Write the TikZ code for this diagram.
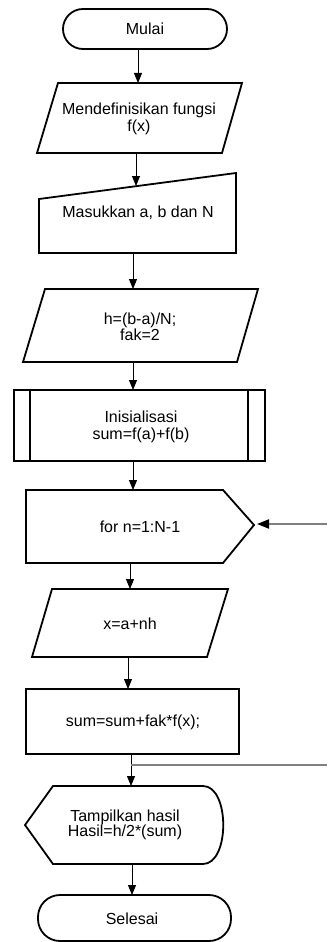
\documentclass[tikz,border=0pt]{standalone}
\usepackage{fontspec}
\setmainfont{Liberation Sans}
\usetikzlibrary{arrows.meta}
\tikzset{
  shapeline/.style={draw=black, line width=1.8pt, line join=miter, fill=white},
  txt/.style={align=center, inner sep=0pt, font=\fontsize{16}{17.5}\selectfont},
  conn/.style={draw=black, line width=1pt, -{Triangle[length=10pt,width=8pt]}},
  loopline/.style={draw=black!50, line width=2pt},
  looparrow/.style={draw=black!50, line width=2pt, -{Triangle[length=12pt,width=9pt,color=black]}}
}
\begin{document}
\begin{tikzpicture}[x=1pt,y=-1pt]
\useasboundingbox (0,0) rectangle (327,942);

% 1 Mulai
\draw[shapeline, rounded corners=20pt] (63,9) rectangle (227,49);
\node[txt] (mulai) at (145,29) {Mulai};
\coordinate (mulaiS) at (138,49);

% 2 Mendefinisikan fungsi
\draw[shapeline] (58,83) -- (242,83) -- (222,153) -- (37,153) -- cycle;
\node[txt] (def) at (139,119) {Mendefinisikan fungsi\\f(x)};
\coordinate (defN) at (138,83);
\coordinate (defS) at (136,153);

% 3 Masukkan
\draw[shapeline] (39,199) -- (236,173) -- (236,253) -- (39,253) -- cycle;
\node[txt] (input) at (138,213) {Masukkan a, b dan N};
\coordinate (inputN) at (136,186);
\coordinate (inputS) at (133,253);

% 4 h=(b-a)/N
\draw[shapeline] (45,289) -- (258,289) -- (237,362) -- (23,362) -- cycle;
\node[txt, font=\fontsize{16}{14.5}\selectfont] (hval) at (140,327) {h=(b-a)/N;\\fak=2};
\coordinate (hvalN) at (133,289);
\coordinate (hvalS) at (133,362);

% 5 Inisialisasi
\draw[shapeline] (14,390) rectangle (265,461);
\draw[shapeline] (30,390) -- (30,461);
\draw[shapeline] (248,390) -- (248,461);
\node[txt, font=\fontsize{16}{17}\selectfont] (init) at (141,427) {Inisialisasi\\sum=f(a)+f(b)};
\coordinate (initN) at (133,390);
\coordinate (initS) at (133,461);

% 6 for loop
\draw[shapeline] (26,490) -- (223,490) -- (254,525) -- (223,563) -- (26,563) -- cycle;
\node[txt] (loop) at (140,527) {for n=1:N-1};
\coordinate (loopN) at (133,490);
\coordinate (loopS) at (130,563);
\coordinate (loopE) at (257,524);
\coordinate (backIn) at (327,524);

% 7 x=a+nh
\draw[shapeline] (52,589) -- (228,589) -- (207,657) -- (32,657) -- cycle;
\node[txt] (xval) at (130,624) {x=a+nh};
\coordinate (xvalN) at (130,589);
\coordinate (xvalS) at (128,657);

% 8 sum
\draw[shapeline] (26,689) rectangle (239,754);
\node[txt] (sum) at (133,722) {sum=sum+fak*f(x);};
\coordinate (sumN) at (128,689);
\coordinate (sumS) at (131,754);
\coordinate (branch) at (131,765);
\coordinate (backOut) at (327,765);

% 9 Tampilkan
\draw[shapeline] (25,825) -- (53,786) -- (203,786)
  .. controls (230,786) and (230,864) .. (203,864) -- (53,864) -- cycle;
\node[txt, font=\fontsize{16}{15.5}\selectfont] (disp) at (125,825) {Tampilkan hasil\\Hasil=h/2*(sum)};
\coordinate (dispN) at (131,786);
\coordinate (dispS) at (132,864);

% 10 Selesai
\draw[shapeline, rounded corners=22pt] (38,895) rectangle (231,941);
\node[txt] (selesai) at (132,919) {Selesai};
\coordinate (selesaiN) at (132,895);

% connectors
\draw[conn] (mulaiS) -- (defN);
\draw[conn] (defS) -- (inputN);
\draw[conn] (inputS) -- (hvalN);
\draw[conn] (hvalS) -- (initN);
\draw[conn] (initS) -- (loopN);
\draw[conn] (loopS) -- (xvalN);
\draw[conn] (xvalS) -- (sumN);
\draw[conn] (sumS) -- (dispN);
\draw[conn] (dispS) -- (selesaiN);
\draw[loopline] (branch) -- (backOut);
\draw[looparrow] (backIn) -- (loopE);
\end{tikzpicture}
\end{document}
